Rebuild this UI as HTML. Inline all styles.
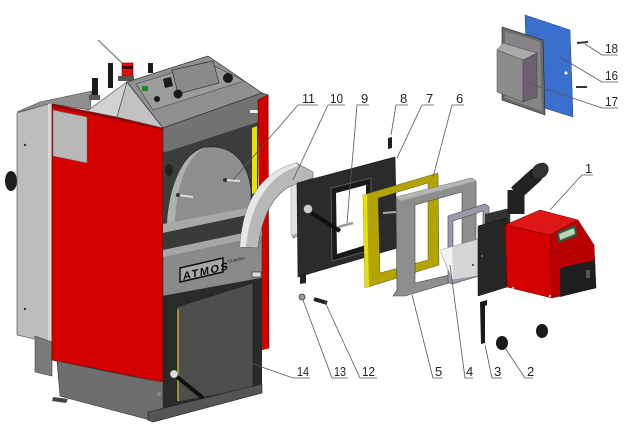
<!DOCTYPE html>
<html>
<head>
<meta charset="utf-8">
<style>
  html,body{margin:0;padding:0;background:#fff;}
  svg{display:block;}
  .lbl{font-family:"Liberation Sans",sans-serif;font-size:13px;fill:#222;}
  .ld{stroke:#555;stroke-width:0.8;fill:none;}
</style>
</head>
<body>
<svg width="630" height="439" viewBox="0 0 630 439" xmlns="http://www.w3.org/2000/svg">
<rect width="630" height="439" fill="#fff"/>

<!-- ===== BOILER ===== -->
<ellipse cx="11" cy="181" rx="6" ry="10" fill="#1e1e1e"/>
<polygon points="17,112 40,102 92,91 90,110 52,104" fill="#8e8e8e" stroke="#444" stroke-width="0.6"/>
<polygon points="17,113 52,103 52,343 17,335" fill="#bdbdbd" stroke="#444" stroke-width="0.6"/>
<polygon points="48,104 52,103 52,343 48,342" fill="#d6d6d6"/>
<circle cx="25" cy="145" r="1.2" fill="#333"/>
<circle cx="25" cy="309" r="1.2" fill="#333"/>
<polygon points="35,336 52,342 52,376 35,372" fill="#7a7a7a" stroke="#444" stroke-width="0.6"/>
<polygon points="52,104 163,127 163,382 52,360" fill="#d40000" stroke="#5a0000" stroke-width="0.7"/>
<polygon points="52,104 163,127 163,130 52,107" fill="#a00000"/>
<polygon points="53,110 87,117 87,163 53,156" fill="#b8b8b8" stroke="#666" stroke-width="0.5"/>
<polygon points="57,361 163,383 163,412 150,420 60,396" fill="#6e6e6e" stroke="#333" stroke-width="0.6"/>
<polygon points="53,397 68,399 66,403 52,401" fill="#444"/>
<line x1="98" y1="40" x2="122" y2="63" stroke="#888" stroke-width="1.4"/>
<rect x="92" y="78" width="6" height="22" fill="#1a1a1a"/>
<rect x="89" y="95" width="11" height="5" fill="#555"/>
<rect x="108" y="63" width="5" height="25" fill="#1a1a1a"/>
<rect x="122" y="63" width="11" height="13" fill="#e01010" stroke="#600" stroke-width="0.6"/>
<rect x="122" y="66" width="11" height="3" fill="#400"/>
<rect x="118" y="76" width="16" height="5" fill="#555"/>
<rect x="148" y="63" width="5" height="10" fill="#1a1a1a"/>
<polygon points="87,111 127,82 117,117" fill="#d2d2d2" stroke="#444" stroke-width="0.6"/>
<polygon points="127,82 163,128 117,117" fill="#c2c2c2" stroke="#444" stroke-width="0.6"/>
<polygon points="127,82 208,56 262,93 163,128" fill="#909090" stroke="#333" stroke-width="0.7"/>
<polygon points="136,84 206,62 244,81 153,110" fill="#9c9c9c" stroke="#444" stroke-width="0.6"/>
<polygon points="172,70 213,61 219,83 178,94" fill="#8a8a8a" stroke="#333" stroke-width="0.7"/>
<rect x="142" y="86" width="6" height="5" fill="#1a8a2a"/>
<polygon points="163,79 171,77 173,86 165,88" fill="#1a1a1a"/>
<circle cx="178" cy="94" r="4.5" fill="#1a1a1a"/>
<circle cx="157" cy="99" r="3" fill="#1a1a1a"/>
<circle cx="228" cy="78" r="5" fill="#1a1a1a"/>
<polygon points="163,128 262,93 268,95 268,126 163,153" fill="#727272" stroke="#333" stroke-width="0.7"/>
<rect x="250" y="110" width="8" height="3" fill="#eee"/>
<polygon points="258,100 268,95 269,348 261,350" fill="#d40000" stroke="#5a0000" stroke-width="0.6"/>
<polygon points="163,153 258,122 258,256 163,276" fill="#3c3c3c"/>
<polygon points="252,128 257,126 257,192 252,194" fill="#e8e000"/>
<ellipse cx="169" cy="170" rx="4" ry="6" fill="#222"/>
<path d="M167,226 C168,190 182,150 208,147 C232,145 248,162 251,190 L251,212 L167,228 Z" fill="#8e8e8e" stroke="#222" stroke-width="0.7"/>
<path d="M167,226 C168,190 182,150 208,147 C188,152 176,185 175,224 Z" fill="#b0b0b0"/>
<line x1="178" y1="195" x2="193" y2="197" stroke="#ddd" stroke-width="2"/>
<circle cx="178" cy="195" r="2" fill="#333"/>
<line x1="225" y1="180" x2="240" y2="181" stroke="#ddd" stroke-width="2"/>
<circle cx="225" cy="180" r="2" fill="#333"/>
<polygon points="163,224 252,207 252,214 163,233" fill="#a8a8a8"/>
<polygon points="163,233 252,214 252,232 163,251" fill="#3a3a3a"/>
<polygon points="163,250 262,229 262,278 163,296" fill="#8a8a8a" stroke="#333" stroke-width="0.6"/>
<polygon points="163,250 262,229 262,236 163,257" fill="#a6a6a6"/>
<polygon points="180,268 223,258 223,272 180,282" fill="#a8a8a8" stroke="#111" stroke-width="1.5"/>
<text x="0" y="0" transform="translate(183,280) skewY(-13)" font-family="Liberation Sans,sans-serif" font-size="11" font-weight="bold" letter-spacing="1.5" fill="#111">ATMOS</text>
<text x="0" y="0" transform="translate(228,263) skewY(-13)" font-family="Liberation Sans,sans-serif" font-size="4.5" fill="#222">Duoplus</text>
<rect x="252" y="272" width="9" height="5" fill="#ddd" stroke="#222" stroke-width="0.6"/>
<polygon points="163,296 262,278 262,386 163,410" fill="#2a2a2a"/>
<polygon points="177,307 253,283 253,388 177,402" fill="#4e4e4e" stroke="#222" stroke-width="0.6"/>
<line x1="178" y1="309" x2="178" y2="401" stroke="#d8d000" stroke-width="1.2"/>
<line x1="176" y1="376" x2="203" y2="398" stroke="#111" stroke-width="4"/>
<circle cx="174" cy="374" r="4" fill="#ddd" stroke="#555" stroke-width="0.6"/>
<circle cx="159" cy="394" r="2" fill="#888"/>
<polygon points="148,412 262,384 262,393 153,422 148,420" fill="#555" stroke="#222" stroke-width="0.6"/>

<!-- ===== PART 10 arc ===== -->
<path d="M240,247 C243,200 262,172 296,163 L313,172 L313,178 L302,182 L302,234 L293,238 L293,185 C274,193 262,215 258,248 Z" fill="#b8b8b8" stroke="#555" stroke-width="0.6"/>
<path d="M240,247 C243,200 262,172 296,163 L298,166 C268,176 250,205 246,247 Z" fill="#e6e6e6"/>
<polygon points="291,186 301,183 301,232 291,236" fill="#e2e2e2" stroke="#888" stroke-width="0.4"/>

<!-- ===== PART 9 door ===== -->
<polygon points="297,183 395,157 397,248 298,277" fill="#2b2b2b" stroke="#111" stroke-width="0.6"/>
<polygon points="331,188 371,178 371,250 332,261" fill="#1a1a1a" stroke="#666" stroke-width="0.8"/>
<polygon points="336,193 366,185 366,245 337,254" fill="#fff"/>
<polygon points="300,275 306,273 306,283 300,284" fill="#222"/>
<line x1="338" y1="227" x2="353" y2="223" stroke="#999" stroke-width="2.5"/>
<circle cx="334" cy="228" r="1.3" fill="#333"/>
<line x1="310" y1="212" x2="340" y2="231" stroke="#111" stroke-width="4"/>
<circle cx="308" cy="209" r="4.5" fill="#ccc" stroke="#444" stroke-width="0.6"/>
<polygon points="388,138 392,137 392,148 388,149" fill="#1e1e1e"/>

<!-- ===== PART 7 yellow frame ===== -->
<path d="M363,195 L438,173 L439,265 L365,288 Z M378,198 L428,183 L428,260 L380,273 Z" fill="#b3a400" fill-rule="evenodd" stroke="#555" stroke-width="0.5"/>
<polygon points="363,195 367,194 369,287 365,288" fill="#e8e000"/>
<line x1="383" y1="213" x2="396" y2="212" stroke="#aaa" stroke-width="2"/>

<!-- ===== PART 6 grey frame ===== -->
<path d="M396,197 L472,178 L476,181 L476,275 L405,296 L393,296 L397,290 Z M415,205 L462,192 L462,272 L415,283 Z" fill="#8e8e8e" fill-rule="evenodd" stroke="#444" stroke-width="0.6"/>
<polygon points="396,197 472,178 476,181 400,201" fill="#b4b4b4"/>

<!-- ===== PART 4 ===== -->
<path d="M448,216 L485,204 L489,207 L489,273 L452,284 L448,282 Z M453,221 L483,211 L483,270 L453,278 Z" fill="#9a9aac" fill-rule="evenodd" stroke="#444" stroke-width="0.6"/>
<polygon points="440,250 478,239 478,276 452,280" fill="#d6d6d6" stroke="#777" stroke-width="0.4"/>
<polygon points="440,250 452,247 453,279" fill="#f2f2f2"/>
<circle cx="473" cy="265" r="1" fill="#333"/>

<!-- ===== PART 1 burner ===== -->
<polygon points="485,214 510,208 511,252 485,257" fill="#333"/>
<polygon points="478,226 507,218 507,287 478,296" fill="#262626" stroke="#111" stroke-width="0.5"/>
<circle cx="482" cy="256" r="1" fill="#777"/>
<line x1="516" y1="214" x2="516" y2="190" stroke="#222" stroke-width="17"/>
<line x1="516" y1="193" x2="537" y2="174" stroke="#222" stroke-width="15"/>
<ellipse cx="540" cy="171" rx="9" ry="7" transform="rotate(-40 540 171)" fill="#333" stroke="#111" stroke-width="0.6"/>
<polygon points="505,225 540,210 578,220 550,235" fill="#e01515" stroke="#600" stroke-width="0.5"/>
<polygon points="505,225 550,235 552,298 507,287" fill="#d40000" stroke="#600" stroke-width="0.5"/>
<polygon points="550,235 578,220 594,245 596,288 552,298" fill="#b80000" stroke="#600" stroke-width="0.5"/>
<polygon points="560,268 595,260 596,288 560,297" fill="#1e1e1e"/>
<polygon points="557,232 576,225 577,236 558,243" fill="#2a5a40"/>
<polygon points="559,234 574,228 575,234 560,240" fill="#b8d4b8"/>
<rect x="586" y="270" width="4" height="8" fill="#555"/>
<circle cx="513" cy="288" r="1.2" fill="#ccc"/>
<circle cx="550" cy="296" r="1.2" fill="#ccc"/>

<!-- ===== small parts ===== -->
<polygon points="480,302 487,300 487,305 485,306 485,343 481,344" fill="#1a1a1a"/>
<ellipse cx="502" cy="343" rx="6" ry="7" fill="#1a1a1a"/>
<ellipse cx="542" cy="331" rx="6" ry="7" fill="#1a1a1a"/>
<line x1="314" y1="299" x2="327" y2="303" stroke="#222" stroke-width="4"/>
<circle cx="302" cy="297" r="3" fill="#999" stroke="#333" stroke-width="0.8"/>

<!-- ===== top-right assembly ===== -->
<polygon points="525,15 570,30 573,117 528,103" fill="#3b6fcd" stroke="#1c3c80" stroke-width="0.5"/>
<circle cx="566" cy="73" r="1.5" fill="#fff"/>
<polygon points="502,27 543,40 545,115 502,100" fill="#6a6a6a" stroke="#222" stroke-width="0.6"/>
<polygon points="505,31 540,42 542,111 505,98" fill="#858585"/>
<polygon points="497,50 503,43 537,53 523,60" fill="#aaaaaa" stroke="#444" stroke-width="0.5"/>
<polygon points="497,50 523,60 523,102 497,92" fill="#8c8c8c" stroke="#444" stroke-width="0.5"/>
<polygon points="523,60 537,53 537,97 523,102" fill="#6c5f70" stroke="#444" stroke-width="0.5"/>
<line x1="577" y1="43" x2="588" y2="42" stroke="#333" stroke-width="2"/>
<line x1="576" y1="87" x2="587" y2="87" stroke="#333" stroke-width="2"/>

<!-- ===== leaders & labels ===== -->
<g class="ld">
  <polyline points="318,105 298,105 233,180"/>
  <polyline points="345,105 328,105 293,180"/>
  <polyline points="369,105 357,105 347,223"/>
  <polyline points="408,105 396,105 391,135"/>
  <polyline points="434,105 422,105 397,158"/>
  <polyline points="464,105 452,105 433,177"/>
  <polyline points="593,175 582,175 550,210"/>
  <polyline points="310,378 293,378 233,357"/>
  <polyline points="348,378 332,378 303,300"/>
  <polyline points="377,378 360,378 325,302"/>
  <polyline points="443,378 433,378 412,295"/>
  <polyline points="473,378 465,378 450,265"/>
  <polyline points="502,378 492,378 485,345"/>
  <polyline points="533,378 525,378 505,348"/>
  <polyline points="618,55 602,55 585,44"/>
  <polyline points="618,82 602,82 560,57"/>
  <polyline points="618,108 602,108 528,83"/>
</g>
<g class="lbl">
  <text x="302" y="103" textLength="13" lengthAdjust="spacingAndGlyphs">11</text>
  <text x="330" y="103" textLength="13" lengthAdjust="spacingAndGlyphs">10</text>
  <text x="361" y="103">9</text>
  <text x="400" y="103">8</text>
  <text x="426" y="103">7</text>
  <text x="456" y="103">6</text>
  <text x="585" y="173">1</text>
  <text x="297" y="376" textLength="12" lengthAdjust="spacingAndGlyphs">14</text>
  <text x="334" y="376" textLength="12" lengthAdjust="spacingAndGlyphs">13</text>
  <text x="362" y="376" textLength="13" lengthAdjust="spacingAndGlyphs">12</text>
  <text x="435" y="376">5</text>
  <text x="466" y="376">4</text>
  <text x="494" y="376">3</text>
  <text x="527" y="376">2</text>
  <text x="605" y="53" textLength="13" lengthAdjust="spacingAndGlyphs">18</text>
  <text x="605" y="80" textLength="13" lengthAdjust="spacingAndGlyphs">16</text>
  <text x="605" y="106" textLength="13" lengthAdjust="spacingAndGlyphs">17</text>
</g>
</svg>
</body>
</html>
